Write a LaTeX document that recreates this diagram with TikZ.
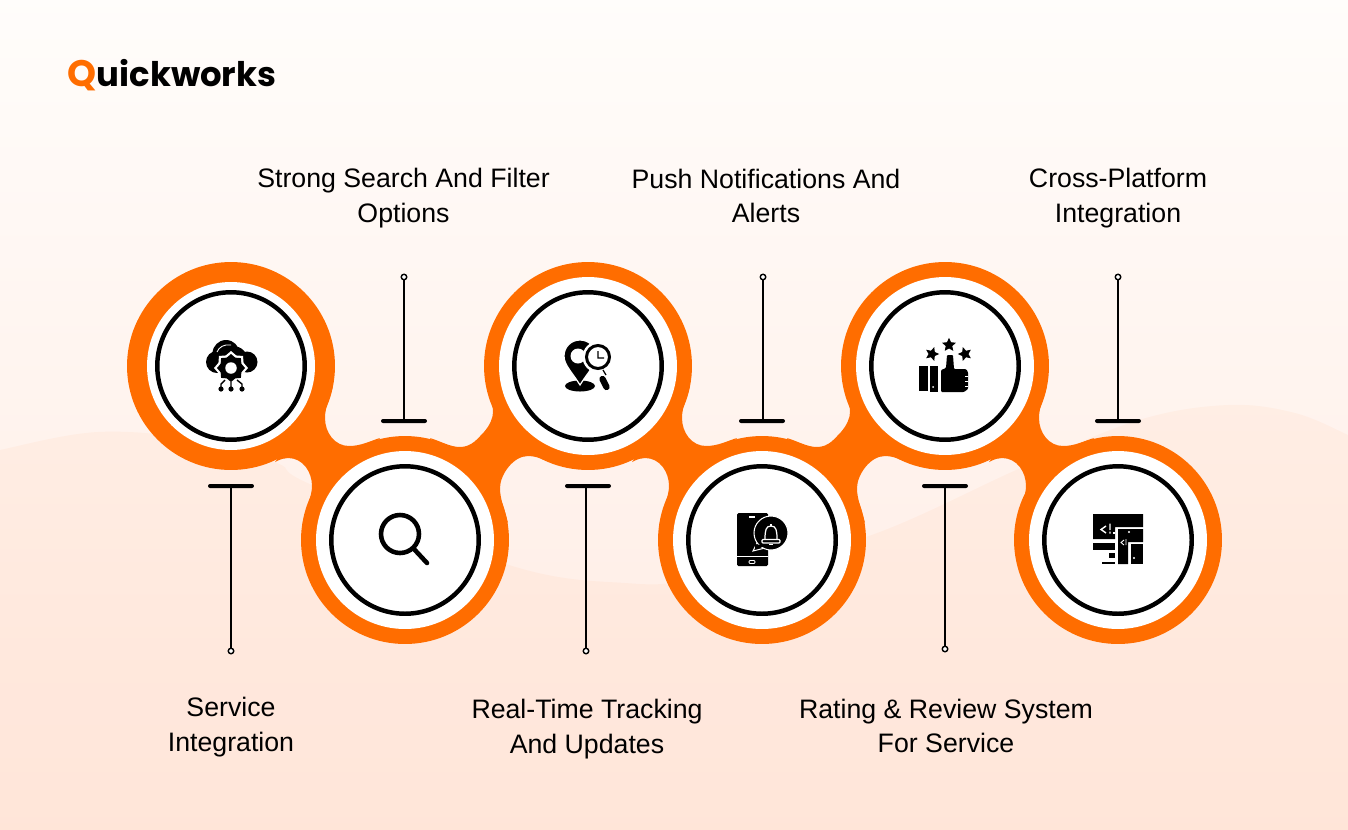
\documentclass[tikz,border=0pt]{standalone}
\usepackage{fontspec}
\usepackage{tikz}
\usetikzlibrary{shapes.geometric}
\setmainfont{Liberation Sans}
\newfontfamily\logofont{Poppins}
\definecolor{qorange}{HTML}{FF6D00}
\definecolor{bgtop}{HTML}{FFFDFB}
\definecolor{bgmid}{HTML}{FEF6F1}
\definecolor{bgbot}{HTML}{FFEAE1}
\tikzset{
  orangedisc/.style={shape=circle,fill=qorange,inner sep=0pt,minimum size=4.16cm},
  whitedisc/.style={shape=circle,fill=white,inner sep=0pt,minimum size=3.56cm},
  ringdisc/.style={shape=circle,draw=black,line width=2.55pt,inner sep=0pt,minimum size=2.95cm},
  dotnode/.style={shape=circle,draw=black,fill=white,line width=.8pt,inner sep=0pt,minimum size=.11cm},
  barnode/.style={shape=rectangle,fill=black,rounded corners=.04cm,inner sep=0pt,minimum width=.92cm,minimum height=.08cm},
  stemline/.style={draw=black,line width=1.15pt},
  labelnode/.style={align=center,font=\fontsize{15.2}{19.6}\selectfont,inner sep=0pt},
  starnode/.style={star,star points=5,star point ratio=2.1,fill=black,inner sep=0pt,minimum size=.29cm},
  neckdown/.pic={
    \fill[qorange] (275,462) .. controls (281,459) and (284,458) .. (288,458)
      .. controls (303,458) and (312,472) .. (312,486)
      .. controls (312,497) and (305,510) .. (302,527) -- (380,438)
      .. controls (370,441) and (361,446) .. (349,446)
      .. controls (335,446) and (325,433) .. (325,418)
      .. controls (325,405) and (331,398) .. (333,385) -- cycle;
  },
  neckup/.pic={
    \fill[qorange] (430,438) .. controls (440,441) and (450,447) .. (460,447)
      .. controls (472,447) and (478,438) .. (484,432)
      .. controls (490,425) and (493,418) .. (493,412)
      .. controls (493,403) and (489,396) .. (487,387) -- (545,460)
      .. controls (539,458) and (535,456) .. (528,456)
      .. controls (513,456) and (500,475) .. (500,488)
      .. controls (500,500) and (505,510) .. (508,523) -- cycle;
  },
}
\begin{document}
\begin{tikzpicture}[x=.02cm,y=-.02cm]
  \useasboundingbox (0,0) rectangle (1348,829);

  % background
  \shade[top color=bgtop,middle color=bgmid,bottom color=bgbot] (-10,-10) rectangle (1358,839);
  \fill[qorange,opacity=.04] (-10,839) -- (-10,454)
    -- plot[smooth,tension=.6] coordinates {(-10,454) (0,450) (98,432) (200,440) (277,463) (312,485) (509,565) (625,583) (700,578) (866,537) (1023,467) (1139,420) (1228,405) (1295,413) (1348,435) (1358,441)}
    -- (1358,839) -- cycle;

  % logo
  \node[inner sep=0pt,font=\logofont\bfseries\fontsize{19.3}{24}\selectfont] (logo) at (172,75) {\textcolor{qorange}{\fontsize{21}{24}\selectfont Q}uickworks};

  % discs and necks
  \node[orangedisc] (A) at (231,366) {};
  \node[orangedisc] (B) at (405,540) {};
  \node[orangedisc] (C) at (588,366) {};
  \node[orangedisc] (D) at (762,540) {};
  \node[orangedisc] (E) at (945,366) {};
  \node[orangedisc] (F) at (1118,540) {};
  \pic (nAB) at (0,0) {neckdown};
  \pic (nCD) at (357,0) {neckdown};
  \pic (nEF) at (714,0) {neckdown};
  \pic (nBC) at (0,0) {neckup};
  \pic (nDE) at (357,0) {neckup};

  \node[whitedisc,minimum size=3.36cm] (wA) at (231,366) {};
  \node[whitedisc] (wB) at (405,540) {};
  \node[whitedisc] (wC) at (588,366) {};
  \node[whitedisc] (wD) at (762,540) {};
  \node[whitedisc] (wE) at (945,366) {};
  \node[whitedisc] (wF) at (1118,540) {};
  \node[ringdisc] (rA) at (231,366) {};
  \node[ringdisc] (rB) at (405,540) {};
  \node[ringdisc] (rC) at (588,366) {};
  \node[ringdisc] (rD) at (762,540) {};
  \node[ringdisc] (rE) at (945,366) {};
  \node[ringdisc] (rF) at (1118,540) {};

  % stems
  \node[barnode] (barA) at (231,486) {};
  \node[barnode] (barB) at (404,421) {};
  \node[barnode] (barC) at (588,486) {};
  \node[barnode] (barD) at (762,421) {};
  \node[barnode] (barE) at (945,486) {};
  \node[barnode] (barF) at (1118,421) {};
  \node[dotnode] (dotA) at (231,651) {};
  \node[dotnode] (dotB) at (404,277) {};
  \node[dotnode] (dotC) at (586,651) {};
  \node[dotnode] (dotD) at (763,277) {};
  \node[dotnode] (dotE) at (945,649) {};
  \node[dotnode] (dotF) at (1118,277) {};
  \path [stemline] (dotA) edge (dotA |- barA);
  \path [stemline] (dotB) edge (dotB |- barB);
  \path [stemline] (dotC) edge (dotC |- barC);
  \path [stemline] (dotD) edge (dotD |- barD);
  \path [stemline] (dotE) edge (dotE |- barE);
  \path [stemline] (dotF) edge (dotF |- barF);

  % labels
  \node[labelnode] (lblA) at (231,727) {Service\\Integration};
  \node[labelnode] (lblB) at (403.5,198) {Strong Search And Filter\\Options};
  \node[labelnode] (lblC) at (587,729) {Real-Time Tracking\\And Updates};
  \node[labelnode] (lblD) at (766,196) {Push Notifications And\\Alerts};
  \node[labelnode] (lblE) at (946,726) {Rating \& Review System\\For Service};
  \node[labelnode] (lblF) at (1118,198) {Cross-Platform\\Integration};

  % cloud icon
  \fill[black] (217,362) circle (11) (226,353.5) circle (13.5) (247,362) circle (10.5) (233,361) circle (15);
  \draw[white,line width=.5pt] (217,352) .. controls (219,347) and (224,344) .. (231,345);
  \fill[white] (222,374) rectangle (240,382);
  \node[star,star points=8,star point ratio=1.25,fill=white,inner sep=0pt,minimum size=.68cm] (gearw) at (231,368) {};
  \node[star,star points=8,star point ratio=1.25,fill=black,inner sep=0pt,minimum size=.56cm] (gearb) at (231,368) {};
  \node[shape=circle,fill=white,inner sep=0pt,minimum size=.23cm] (hub) at (231,368) {};
  \draw[line width=.8pt] (225,380) -- (221,384) -- (221,389) (231,382) -- (231,389) (237,380) -- (242,384) -- (242,389);
  \fill[black] (221,389) circle (2.6) (231,389) circle (2.6) (242,389) circle (2.6);

  % search icon
  \node[shape=circle,draw=black,line width=2.6pt,inner sep=0pt,minimum size=.76cm] (lens) at (400,534) {};
  \draw[line width=2.6pt,line cap=round] (lens) -- (427,563);

  % pin icon
  \fill[black] (580,386) ellipse (15 and 5.5);
  \filldraw[black,draw=white,line width=.7pt] (580,385) .. controls (572,372) and (564,365) .. (564,356)
    .. controls (564,347) and (571,340) .. (580,340)
    .. controls (589,340) and (596,347) .. (596,356)
    .. controls (596,365) and (588,372) .. cycle;
  \fill[white] (578,356) circle (7.5);
  \fill[white] (598,357) circle (15.5);
  \draw[line width=1.7pt] (598,357) circle (11.5);
  \draw[line width=.7pt] (598,351) -- (598,358) -- (604,358) (603,370) -- (606,375);
  \draw[line width=3.6pt,line cap=round] (602.5,379) -- (606.5,387);

  % thumb icon
  \fill[black] (919,366) rectangle (928,391);
  \fill[black] (930,366) rectangle (938,392);
  \fill[white] (933,387) circle (1);
  \fill[black,rounded corners=.02cm] (941,370) -- (946,368) -- (947,355) -- (953,355) -- (954,369) -- (966,369) -- (968,372) -- (968,389) -- (964,392) -- (941,392) -- cycle;
  \draw[white,line width=.4pt] (965,376) -- (968,376) (965,381) -- (968,381) (965,386) -- (968,386);
  \node[starnode] (starB) at (949,345) {};
  \node[starnode,rotate=-18] (starA) at (932,354) {};
  \node[starnode,rotate=18] (starC) at (965,354) {};

  % phone icon
  \fill[black,rounded corners=.03cm] (737,513) rectangle (768,566);
  \fill[white] (737,555.5) rectangle (768,556.7);
  \draw[white,line width=.5pt,rounded corners=.02cm] (749,560.5) rectangle (755,563.5);
  \draw[white,line width=.7pt] (749,517) -- (755,517);
  \filldraw[black,draw=white,line width=.6pt] (757,543) -- (753,551) -- (765,548) -- cycle;
  \filldraw[black,draw=white,line width=.6pt] (771,533) circle (17);
  \fill[black] (755,544) -- (755,549) -- (766,546) -- cycle;
  \draw[white,line width=.7pt] (765,539) .. controls (765,530) and (766,526) .. (771,526)
    .. controls (776,526) and (777,530) .. (777,539);
  \draw[white,line width=.7pt,rounded corners=.02cm] (762,539.5) rectangle (780,543);
  \draw[white,line width=.7pt] (771,526) -- (771,523.5) (769,544.5) -- (773,544.5);

  % web icon
  \fill[black] (1093,514) -- (1143,514) -- (1143,527) -- (1115,527) -- (1115,539) -- (1093,539) -- cycle;
  \fill[black] (1118,529) -- (1143,529) -- (1143,542) -- (1128,542) -- (1128,564) -- (1118,564) -- cycle;
  \fill[black] (1131,544) rectangle (1143,564);
  \fill[black] (1093,543) rectangle (1115,550);
  \fill[black] (1109,553) rectangle (1115,558);
  \fill[black] (1102,562) rectangle (1115,564);
  \fill[white] (1129,532) circle (1.2) (1134,558) circle (1.2);
  \draw[white,line width=.8pt] (1106,526) -- (1101,529.5) -- (1106,533) (1110,523.5) -- (1110,530) (1110,531.5) -- (1110,533.5);
  \draw[white,line width=.8pt] (1114,532) -- (1114,533.5);
  \draw[white,line width=.5pt] (1124,540) -- (1121,542.5) -- (1124,545) (1126,539) -- (1126,545);
\end{tikzpicture}
\end{document}
